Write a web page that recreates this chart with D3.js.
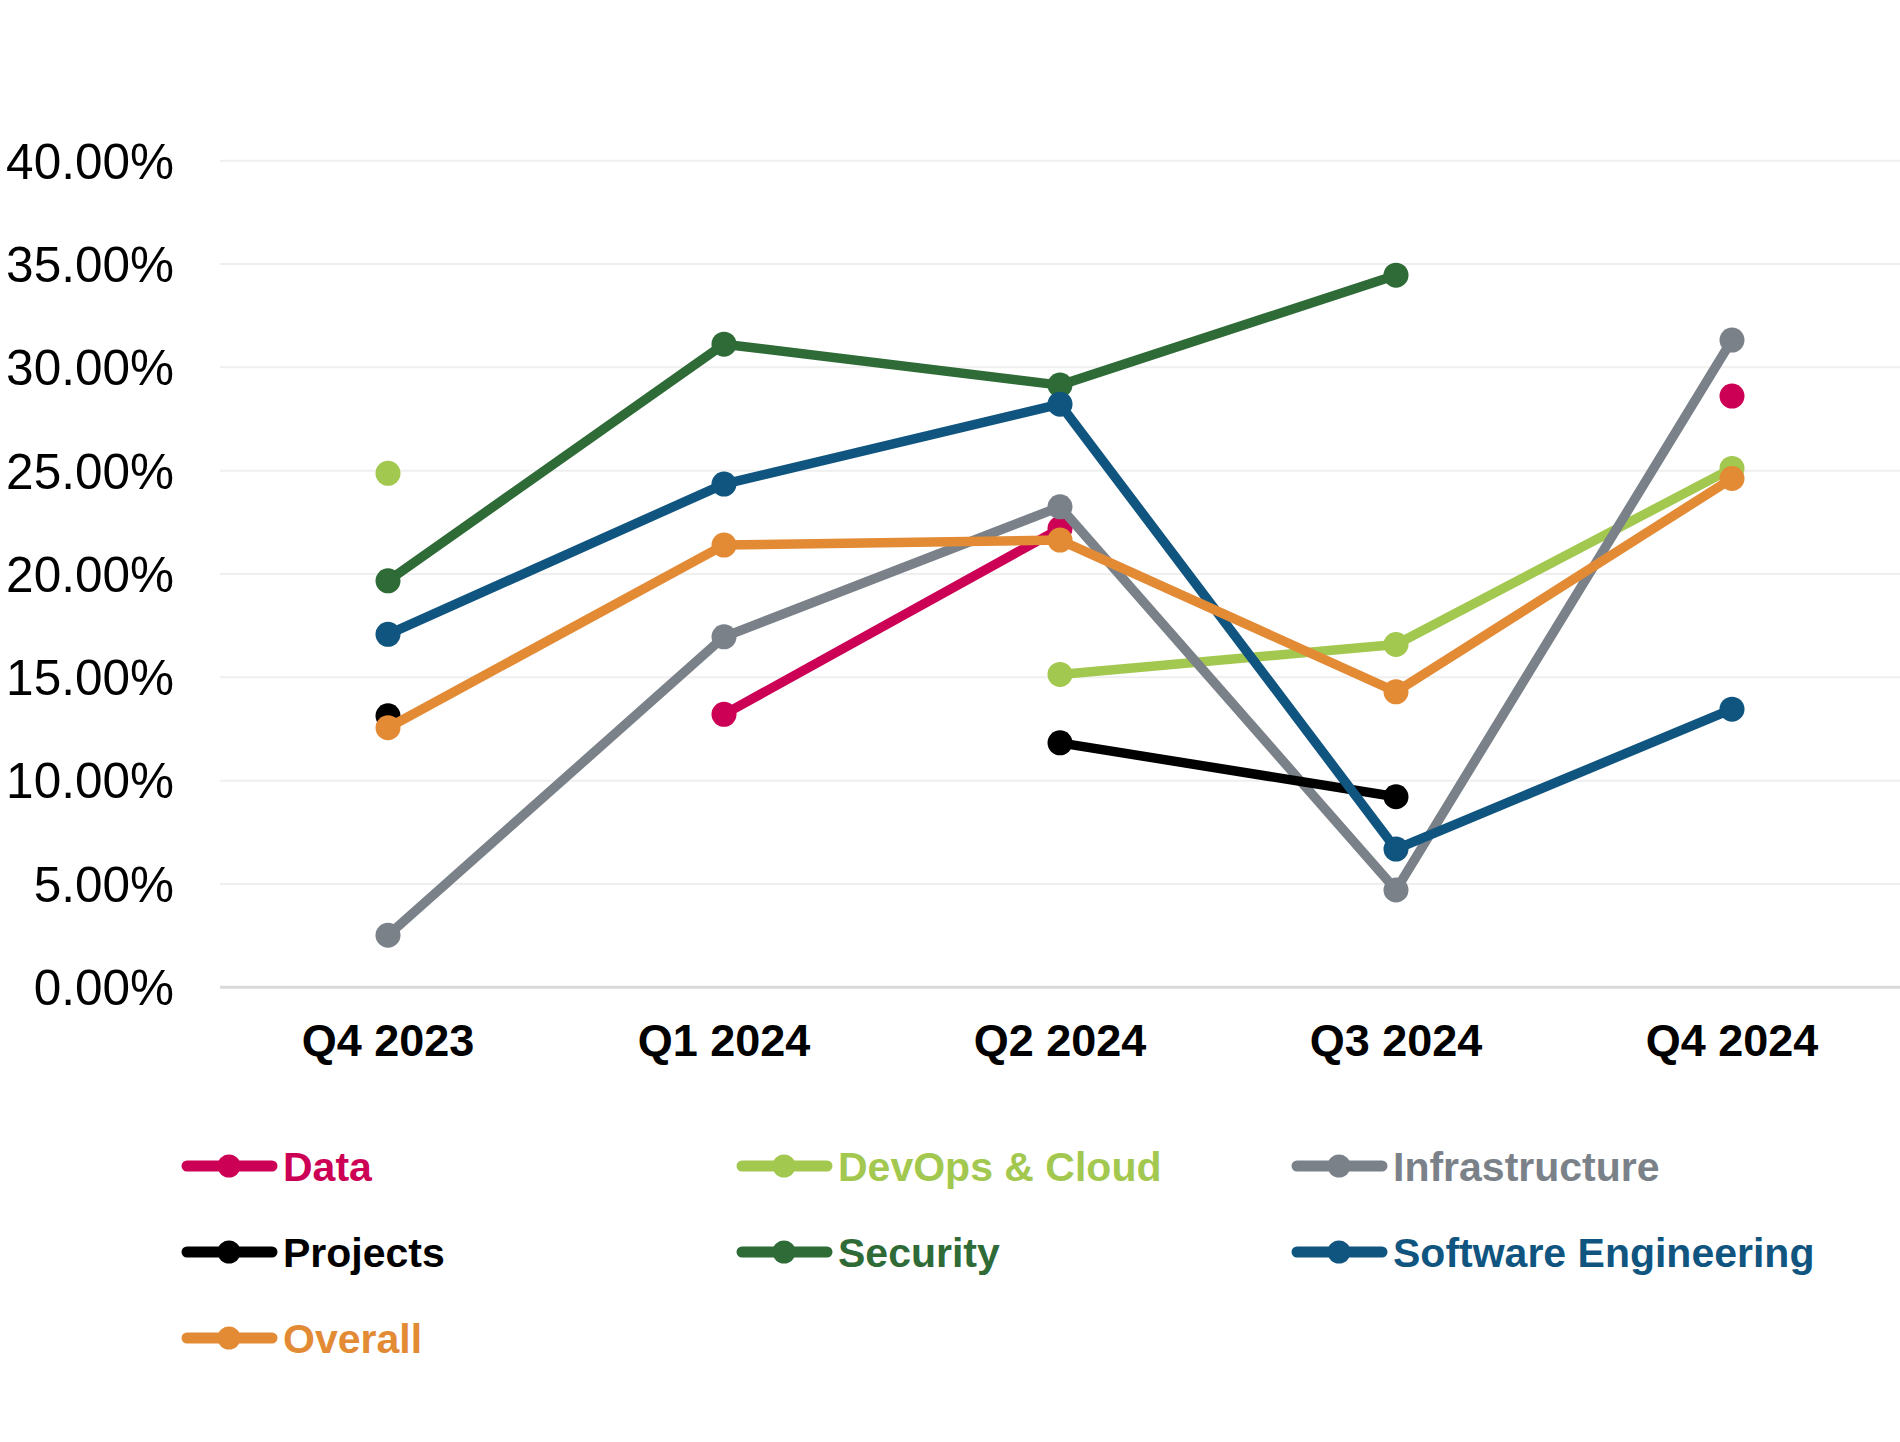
<!DOCTYPE html>
<html>
<head>
<meta charset="utf-8">
<script src="https://cdn.jsdelivr.net/npm/d3@7/dist/d3.min.js"></script>
<style>
  html, body { margin: 0; padding: 0; background: #ffffff; }
  svg { display: block; font-family: "Liberation Sans", Arial, Helvetica, sans-serif; }
</style>
</head>
<body>
<svg id="chart" width="1900" height="1442"></svg>
<script>
const categories = ["Q4 2023", "Q1 2024", "Q2 2024", "Q3 2024", "Q4 2024"];
const seriesNames = ["Data", "DevOps & Cloud", "Infrastructure", "Projects", "Security", "Software Engineering", "Overall"];
const seriesColors = ["#cc0055", "#a3c84f", "#7b8189", "#000000", "#2e6b37", "#10557f", "#e38a35"];
const dataValues = [null, 13.21, 22.2, null, 28.61];
const devopsValues = [24.87, null, 15.14, 16.59, 25.11];
const infraValues = [2.52, 16.96, 23.25, 4.71, 31.32];
const projectsValues = [13.14, null, 11.83, 9.22, null];
const securityValues = [19.67, 31.12, 29.14, 34.46, null];
const softwareValues = [17.08, 24.35, 28.22, 6.69, 13.46];
const overallValues = [12.56, 21.40, 21.64, 14.30, 24.62];
const yTicks = [0, 5, 10, 15, 20, 25, 30, 35, 40];

const seriesValues = [dataValues, devopsValues, infraValues, projectsValues, securityValues, softwareValues, overallValues];
const series = seriesNames.map((name, i) => ({ name, color: seriesColors[i], values: seriesValues[i] }));

const svg = d3.select("#chart");
const plot = { left: 220, right: 1900, top: 160.7, bottom: 987.3 };

const x = d3.scaleBand().domain(categories).range([plot.left, plot.right]).padding(0);
const y = d3.scaleLinear().domain([0, 40]).range([plot.bottom, plot.top]);
const cx = c => x(c) + x.bandwidth() / 2;

// gridlines
svg.append("g").selectAll("line").data(yTicks.filter(t => t > 0)).join("line")
  .attr("x1", plot.left).attr("x2", plot.right)
  .attr("y1", d => y(d)).attr("y2", d => y(d))
  .attr("stroke", "#efefef").attr("stroke-width", 2);

// y axis labels
const yAxis = d3.axisLeft(y).tickValues(yTicks).tickFormat(d => d.toFixed(2) + "%").tickSize(0).tickPadding(0);
const yg = svg.append("g").attr("transform", `translate(174,0)`).call(yAxis);
yg.select(".domain").remove();
yg.selectAll("text").attr("font-size", 49.5).attr("fill", "#000").attr("font-family", '"Liberation Sans", Arial, sans-serif').attr("dy", "0.35em");

// baseline
svg.append("line").attr("x1", plot.left).attr("x2", plot.right)
  .attr("y1", y(0)).attr("y2", y(0)).attr("stroke", "#d9d9d9").attr("stroke-width", 3);

// x axis labels
const xAxis = d3.axisBottom(x).tickSize(0).tickPadding(0);
const xg = svg.append("g").attr("transform", `translate(0,${y(0)})`).call(xAxis);
xg.select(".domain").remove();
xg.selectAll("text").attr("font-size", 45).attr("font-weight", "bold").attr("fill", "#000")
  .attr("font-family", '"Liberation Sans", Arial, sans-serif')
  .attr("y", 53).attr("dy", "0.35em");

// lines and markers
const line = d3.line()
  .defined(d => d.v != null)
  .x(d => cx(d.c))
  .y(d => y(d.v));

series.forEach(s => {
  const pts = categories.map((c, i) => ({ c, v: s.values[i] }));
  const g = svg.append("g");
  g.append("path").datum(pts).attr("d", line)
    .attr("fill", "none").attr("stroke", s.color).attr("stroke-width", 9.5)
    .attr("stroke-linejoin", "round").attr("stroke-linecap", "round");
  g.selectAll("circle").data(pts.filter(d => d.v != null)).join("circle")
    .attr("cx", d => cx(d.c)).attr("cy", d => y(d.v)).attr("r", 12.5)
    .attr("fill", s.color);
});

// legend
const legendCols = [182, 737, 1292];
const legendRows = [1166, 1252, 1338];
const lg = svg.append("g");
series.forEach((s, i) => {
  const col = i % 3, row = Math.floor(i / 3);
  const lx = legendCols[col], ly = legendRows[row];
  const g = lg.append("g").attr("transform", `translate(${lx},${ly})`);
  g.append("line").attr("x1", 5).attr("x2", 90).attr("y1", 0).attr("y2", 0)
    .attr("stroke", s.color).attr("stroke-width", 11).attr("stroke-linecap", "round");
  g.append("circle").attr("cx", 47).attr("cy", 0).attr("r", 11.5).attr("fill", s.color);
  g.append("text").attr("x", 101).attr("y", 0).attr("dy", "0.36em")
    .attr("font-size", 41).attr("font-weight", "bold").attr("fill", s.color)
    .text(s.name);
});
</script>
</body>
</html>
